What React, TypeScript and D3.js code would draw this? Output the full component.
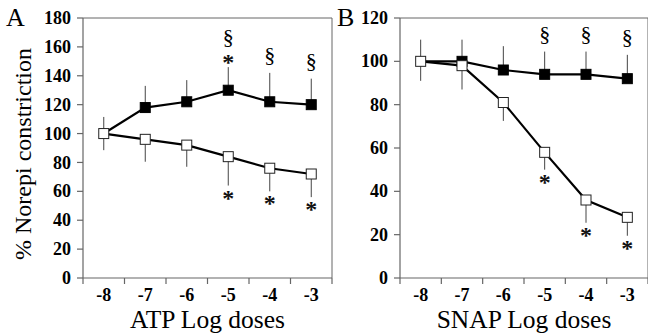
import React from "react";
import * as d3 from "d3";

const doses = ["-8", "-7", "-6", "-5", "-4", "-3"];

// Panel A (ATP)
const atpFilled = [100, 118, 122, 130, 122, 120];
const atpFilledErrUp = [null, 133, 137, 146, 142, 138];
const atpOpen = [100, 96, 92, 84, 76, 72];
const atpOpenErrDown = [88.5, 80.5, 77, 64, 60, 56];
const atpOpenErrUp = [111.5, null, null, null, null, null];
const atpStarsTop = ["", "", "", "*", "", ""];
const atpSection = ["", "", "", "§", "§", "§"];
const atpStarsBottom = ["", "", "", "*", "*", "*"];

// Panel B (SNAP)
const snapFilled = [100, 100, 96, 94, 94, 92];
const snapFilledErrUp = [null, 110, 107, 104.5, 104.5, 103];
const snapOpen = [100, 98, 81, 58, 36, 28];
const snapOpenErrDown = [91, 87, 72.5, 50, 25.5, 19.5];
const snapOpenErrUp = [110, null, null, null, null, null];
const snapSection = ["", "", "", "§", "§", "§"];
const snapStarsBottom = ["", "", "", "*", "*", "*"];

const yTicksA = [0, 20, 40, 60, 80, 100, 120, 140, 160, 180];
const yTicksB = [0, 20, 40, 60, 80, 100, 120];

const FONT = "'Liberation Serif', 'Times New Roman', serif";
const AXIS = "#666";

type PanelProps = {
  left: number;
  right: number;
  top: number;
  bottom: number;
  yMax: number;
  yTicks: number[];
  filled: number[];
  filledErrUp: (number | null)[];
  open: number[];
  openErrDown: (number | null)[];
  openErrUp: (number | null)[];
  section: string[];
  starsTop: string[];
  starsBottom: string[];
  xTitle: string;
  letter: string;
  letterX: number;
};

function Panel(p: PanelProps) {
  const x = d3.scaleBand<string>().domain(doses).range([p.left, p.right]);
  const y = d3.scaleLinear().domain([0, p.yMax]).range([p.bottom, p.top]);
  const cx = (d: string) => (x(d) as number) + x.bandwidth() / 2;
  const line = d3
    .line<number>()
    .x((_, i) => cx(doses[i]))
    .y((v) => y(v));
  const sq = 10;
  const boundaries = doses.map((d) => x(d) as number).concat([p.right]);

  return (
    <g>
      {/* frame */}
      <line x1={p.left} x2={p.right} y1={p.top} y2={p.top} stroke={AXIS} strokeWidth={1} />
      <line x1={p.right} x2={p.right} y1={p.top} y2={p.bottom} stroke={AXIS} strokeWidth={1} />
      {/* axes */}
      <line x1={p.left} x2={p.left} y1={p.top} y2={p.bottom} stroke={AXIS} strokeWidth={1.2} />
      <line x1={p.left} x2={p.right} y1={p.bottom} y2={p.bottom} stroke={AXIS} strokeWidth={1.2} />
      {p.yTicks.map((t) => (
        <g key={"yt" + t}>
          <line x1={p.left - 6} x2={p.left} y1={y(t)} y2={y(t)} stroke={AXIS} strokeWidth={1.2} />
          <text
            x={p.left - 12}
            y={y(t)}
            dy="0.34em"
            textAnchor="end"
            fontFamily={FONT}
            fontWeight="bold"
            fontSize={18}
          >
            {t}
          </text>
        </g>
      ))}
      {boundaries.map((b, i) => (
        <line key={"xt" + i} x1={b} x2={b} y1={p.bottom} y2={p.bottom + 6} stroke={AXIS} strokeWidth={1.2} />
      ))}
      {doses.map((d) => (
        <text
          key={"xl" + d}
          x={cx(d)}
          y={p.bottom + 23}
          textAnchor="middle"
          fontFamily={FONT}
          fontWeight="bold"
          fontSize={18}
        >
          {d}
        </text>
      ))}
      <text
        x={(p.left + p.right) / 2}
        y={p.bottom + 50}
        textAnchor="middle"
        fontFamily={FONT}
        fontSize={25.5}
      >
        {p.xTitle}
      </text>
      <text x={p.letterX} y={26} fontFamily={FONT} fontSize={26}>
        {p.letter}
      </text>

      {/* error bars */}
      {p.filledErrUp.map((e, i) =>
        e == null ? null : (
          <line key={"fe" + i} x1={cx(doses[i])} x2={cx(doses[i])} y1={y(p.filled[i])} y2={y(e)} stroke="#444" strokeWidth={1} />
        )
      )}
      {p.openErrDown.map((e, i) =>
        e == null ? null : (
          <line key={"oed" + i} x1={cx(doses[i])} x2={cx(doses[i])} y1={y(p.open[i])} y2={y(e)} stroke="#444" strokeWidth={1} />
        )
      )}
      {p.openErrUp.map((e, i) =>
        e == null ? null : (
          <line key={"oeu" + i} x1={cx(doses[i])} x2={cx(doses[i])} y1={y(p.open[i])} y2={y(e)} stroke="#444" strokeWidth={1} />
        )
      )}

      {/* lines */}
      <path d={line(p.filled) || ""} fill="none" stroke="#000" strokeWidth={2.2} />
      <path d={line(p.open) || ""} fill="none" stroke="#000" strokeWidth={2.2} />

      {/* markers */}
      {p.filled.map((v, i) =>
        i === 0 ? null : (
          <rect key={"fm" + i} x={cx(doses[i]) - sq / 2} y={y(v) - sq / 2} width={sq} height={sq} fill="#000" stroke="#000" strokeWidth={1} />
        )
      )}
      {p.open.map((v, i) => (
        <rect key={"om" + i} x={cx(doses[i]) - sq / 2} y={y(v) - sq / 2} width={sq} height={sq} fill="#fff" stroke="#222" strokeWidth={1} />
      ))}

      {/* annotations */}
      {p.starsTop.map((s, i) =>
        s ? (
          <text key={"st" + i} x={cx(doses[i])} y={y(p.filledErrUp[i] as number) + 3} textAnchor="middle" fontFamily={FONT} fontWeight="bold" fontSize={24} fill="#111">
            {s}
          </text>
        ) : null
      )}
      {p.section.map((s, i) =>
        s ? (
          <text
            key={"sc" + i}
            x={cx(doses[i])}
            y={y(p.filledErrUp[i] as number) - (p.starsTop[i] ? 23 : 11)}
            textAnchor="middle"
            fontFamily={FONT}
            fontSize={22}
          >
            {s}
          </text>
        ) : null
      )}
      {p.starsBottom.map((s, i) =>
        s ? (
          <text key={"sb" + i} x={cx(doses[i])} y={y(p.openErrDown[i] as number) + 20} textAnchor="middle" fontFamily={FONT} fontWeight="bold" fontSize={24} fill="#111">
            {s}
          </text>
        ) : null
      )}
    </g>
  );
}

export default function App() {
  return (
    <svg width={648} height={335} style={{ display: "block", position: "absolute", left: 0, top: 0 }}>
      <rect width={648} height={335} fill="#fff" />
      <text
        transform="translate(31,154) rotate(-90)"
        textAnchor="middle"
        fontFamily={FONT}
        fontSize={24}
      >
        % Norepi constriction
      </text>
      <Panel
        left={83}
        right={332}
        top={18}
        bottom={278}
        yMax={180}
        yTicks={yTicksA}
        filled={atpFilled}
        filledErrUp={atpFilledErrUp}
        open={atpOpen}
        openErrDown={atpOpenErrDown}
        openErrUp={atpOpenErrUp}
        section={atpSection}
        starsTop={atpStarsTop}
        starsBottom={atpStarsBottom}
        xTitle="ATP Log doses"
        letter="A"
        letterX={6}
      />
      <Panel
        left={400}
        right={648}
        top={18}
        bottom={278}
        yMax={120}
        yTicks={yTicksB}
        filled={snapFilled}
        filledErrUp={snapFilledErrUp}
        open={snapOpen}
        openErrDown={snapOpenErrDown}
        openErrUp={snapOpenErrUp}
        section={snapSection}
        starsTop={["", "", "", "", "", ""]}
        starsBottom={snapStarsBottom}
        xTitle="SNAP Log doses"
        letter="B"
        letterX={337}
      />
    </svg>
  );
}
